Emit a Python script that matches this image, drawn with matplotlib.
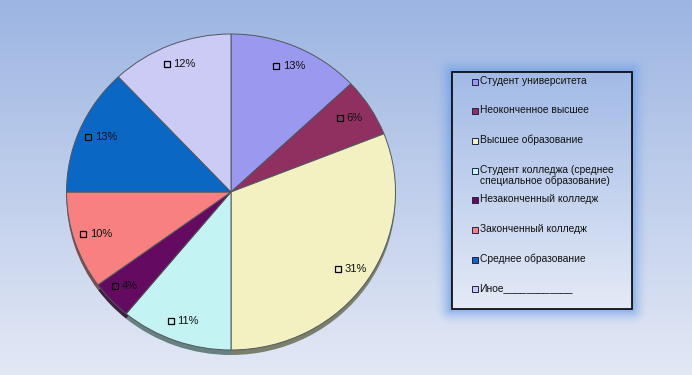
import numpy as np
import matplotlib
matplotlib.use("Agg")
import matplotlib.pyplot as plt
import matplotlib.colors as mcolors
from matplotlib.transforms import offset_copy

# ---- data ----
categories = [
    "Студент университета",
    "Неоконченное высшее",
    "Высшее образование",
    "Студент колледжа (среднее\nспециальное образование)",
    "Незаконченный колледж",
    "Законченный колледж",
    "Среднее образование",
    "Иное____________",
]
values = [13, 6, 31, 11, 4, 10, 13, 12]
colors = ["#9a99ef", "#8f3060", "#f3f1c2", "#c4f3f3", "#650a61", "#f88080", "#0a67c4", "#cccbf6"]

plt.rcParams['font.family'] = ['Liberation Sans', 'DejaVu Sans']

W, H = 692, 375
fig = plt.figure(figsize=(W / 100, H / 100), dpi=100)

# ---- background with gradient and legend glow ----
bg = fig.add_axes([0, 0, 1, 1])
bg.set_xlim(0, W)
bg.set_ylim(H, 0)
bg.axis('off')
top = np.array(mcolors.to_rgb("#9cb5e2"))
bot = np.array(mcolors.to_rgb("#e3e8f5"))
t = np.linspace(0, 1, H)[:, None, None]
grad = top * (1 - t) + bot * t
grad = np.repeat(grad, W, axis=1)
bg.imshow(grad, extent=[0, W, H, 0], aspect='auto', zorder=0)

# legend box geometry (pixels)
lx0, lx1, ly0, ly1 = 451.5, 631.5, 72, 309
yy, xx = np.mgrid[0:H, 0:W] + 0.5
dx = np.maximum(np.maximum(lx0 - xx, xx - lx1), 0)
dy = np.maximum(np.maximum(ly0 - yy, yy - ly1), 0)
d = np.hypot(dx, dy)
alpha = np.clip(1 - d / 17.0, 0, 1) ** 1.8 * 0.75
glow = np.zeros((H, W, 4))
glow[..., :3] = mcolors.to_rgb("#6a9ee8")
glow[..., 3] = alpha
bg.imshow(glow, extent=[0, W, H, 0], aspect='auto', zorder=1)

# legend inside gradient
ltop = np.array(mcolors.to_rgb("#a2bae6"))
lbot = np.array(mcolors.to_rgb("#e4eaf6"))
nh = int(ly1 - ly0)
tl = np.linspace(0, 1, nh)[:, None, None]
lg = np.repeat(ltop * (1 - tl) + lbot * tl, 10, axis=1)
bg.imshow(lg, extent=[lx0, lx1, ly1, ly0], aspect='auto', zorder=2)
bg.add_patch(plt.Rectangle((lx0, ly0), lx1 - lx0, ly1 - ly0, fill=False,
                           edgecolor='black', lw=1.2, zorder=3))
bg.set_xlim(0, W)
bg.set_ylim(H, 0)

# legend entries
step = 29.7
for i, (lab, col) in enumerate(zip(categories, colors)):
    yc = 81.5 + i * step
    bg.plot(475, yc, marker='s', ms=3.8, mfc=col, mec='#222244', mew=0.7, zorder=4)
    bg.text(479.5, yc - 6.0, lab, fontsize=7.35, va='top', ha='left',
            color='#111111', linespacing=1.15, zorder=4)

# ---- pie ----
cx, cy, rx, ry = 231, 192, 164.5, 158
pos = [(cx - rx) / W, (H - (cy + ry)) / H, 2 * rx / W, 2 * ry / H]
shadow_pos = [pos[0], pos[1] - 5 / H, pos[2], pos[3]]

sax = fig.add_axes(shadow_pos)
dark = [tuple(np.array(mcolors.to_rgb(c)) * 0.42 + np.array([0.08, 0.1, 0.1])) for c in colors]
sax.pie(values, colors=dark, startangle=90, counterclock=False,
        wedgeprops=dict(linewidth=0))
sax.set_aspect('auto')
sax.set_xlim(-1, 1)
sax.set_ylim(-1, 1)
sax.axis('off')

ax = fig.add_axes(pos)
wedges, texts, autotexts = ax.pie(
    values, colors=colors, startangle=90, counterclock=False,
    autopct='%1.0f%%', pctdistance=0.87,
    wedgeprops=dict(linewidth=0.7, edgecolor='#505860'),
    textprops=dict(fontsize=8, color='#111111'))
ax.set_aspect('auto')
ax.set_xlim(-1, 1)
ax.set_ylim(-1, 1)
ax.axis('off')

for at in autotexts:
    x, y = at.get_position()
    at.set_ha('left')
    at.set_va('center')
    at.set_transform(offset_copy(ax.transData, fig=fig, x=-5, y=0, units='dots'))
    ax.plot(x, y, marker='s', ms=4.6, mfc='none', mec='black', mew=0.9,
            transform=offset_copy(ax.transData, fig=fig, x=-11.5, y=0, units='dots'))

fig.savefig("out.png", dpi=100)
